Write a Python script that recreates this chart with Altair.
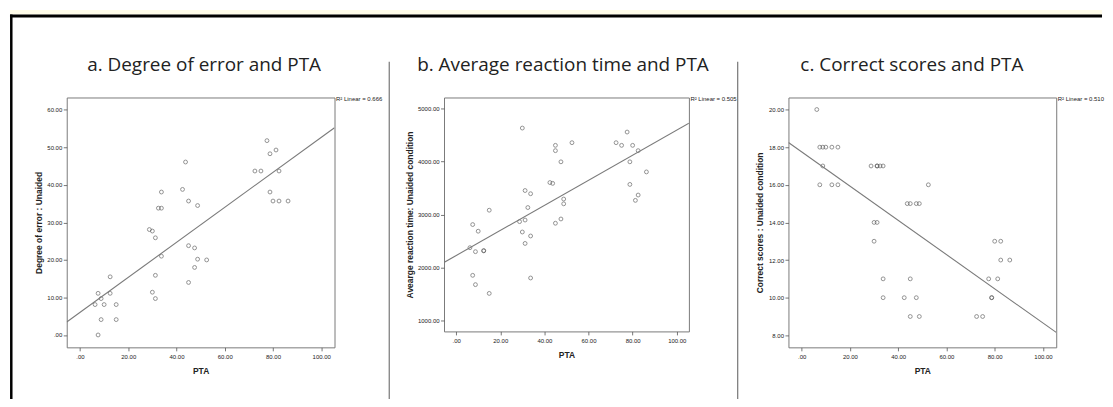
import altair as alt
import pandas as pd

# ---------------- data ----------------
pta_a = [77.5, 78.75, 81.25, 72.5, 75, 82.5, 78.75, 80, 82.5, 86.25,
         43.75, 42.5, 45, 48.75, 33.75, 32.5, 33.75, 28.75, 30, 31.25,
         33.75, 45, 47.5, 48.75, 52.5, 47.5, 45, 31.25, 30, 31.25,
         12.5, 12.5, 7.5, 8.75, 6.25, 10, 15, 8.75, 15, 7.5]
err_a = [51.8, 48.3, 49.3, 43.7, 43.7, 43.7, 38.1, 35.7, 35.7, 35.7,
         46.1, 38.8, 35.7, 34.5, 38.1, 33.8, 33.8, 28.1, 27.7, 25.9,
         21.0, 23.8, 23.2, 20.2, 20.0, 18.0, 14.0, 15.9, 11.4, 9.7,
         15.5, 11.1, 11.1, 9.7, 8.1, 8.1, 8.1, 4.1, 4.1, 0.0]

pta_b = [30, 45, 45, 52.5, 47.5, 42.5, 43.75, 31.25, 33.75, 32.5,
         48.75, 48.75, 15, 7.5, 10, 28.75, 31.25, 47.5, 45, 30,
         33.75, 31.25, 6.25, 8.75, 12.5, 12.5, 7.5, 8.75, 15, 33.75,
         72.5, 75, 77.5, 80, 82.5, 78.75, 86.25, 78.75, 82.5, 81.25]
rt_b = [4625, 4300, 4200, 4350, 3990, 3600, 3585, 3450, 3390, 3130,
        3290, 3200, 3080, 2810, 2685, 2865, 2895, 2915, 2835, 2670,
        2595, 2455, 2375, 2300, 2315, 2320, 1855, 1680, 1515, 1805,
        4350, 4300, 4550, 4300, 4200, 3990, 3800, 3565, 3365, 3265]

pta_c = [6.25, 7.5, 8.75, 10, 12.5, 15, 8.75, 7.5, 12.5, 15,
         28.75, 31.25, 31.25, 32.5, 33.75, 52.5, 43.75, 45, 47.5, 48.75,
         30, 31.25, 30, 33.75, 45, 33.75, 42.5, 47.5, 45, 48.75,
         80, 82.5, 82.5, 86.25, 77.5, 81.25, 78.75, 78.75, 72.5, 75]
cs_c = [20, 18, 18, 18, 18, 18, 17, 16, 16, 16,
        17, 17, 17, 17, 17, 16, 15, 15, 15, 15,
        14, 14, 13, 11, 11, 10, 10, 10, 9, 9,
        13, 13, 12, 12, 11, 11, 10, 10, 9, 9]

titles = ["a. Degree of error and PTA",
          "b. Average reaction time and PTA",
          "c. Correct scores and PTA"]
y_titles = ["Degree of error : Unaided",
            "Avearge reaction time: Unaided condition",
            "Correct scores : Unaided condition"]
r2_labels = ["R\u00b2 Linear = 0.666", "R\u00b2 Linear = 0.505", "R\u00b2 Linear = 0.510"]

x_ticks = [0, 20, 40, 60, 80, 100]
y_ticks_a = [0, 10, 20, 30, 40, 50, 60]
y_ticks_b = [1000, 2000, 3000, 4000, 5000]
y_ticks_c = [8, 10, 12, 14, 16, 18, 20]

X_DOMAIN = [-5.5, 105.5]
LABEL_EXPR = "datum.value == 0 ? '.00' : format(datum.value, '.2f')"

PT_COLOR = "#555555"
LINE_COLOR = "#7a7a7a"
SEP_COLOR = "#808080"


def panel(xs, ys, ytitle, ydomain, yticks, w, h, title, title_x, r2, ytitle_x,
          extra=None):
    df = pd.DataFrame({"pta": xs, "val": ys})
    x_enc = alt.X("pta:Q",
                  scale=alt.Scale(domain=X_DOMAIN, nice=False, zero=False),
                  axis=alt.Axis(values=x_ticks, labelExpr=LABEL_EXPR, title="PTA",
                                titleX=w / 2, titleY=23, titleBaseline="middle",
                                labelPadding=2.5))
    y_enc = alt.Y("val:Q",
                  scale=alt.Scale(domain=ydomain, nice=False, zero=False),
                  axis=alt.Axis(values=yticks, labelExpr=LABEL_EXPR, title=ytitle,
                                titleX=ytitle_x, titleY=h / 2, titleBaseline="middle",
                                titleAngle=270))
    pts = alt.Chart(df).mark_point(shape="circle", filled=False, size=15,
                                   strokeWidth=0.9, color=PT_COLOR).encode(x=x_enc, y=y_enc)
    line = (alt.Chart(df)
            .transform_regression("pta", "val", extent=X_DOMAIN)
            .mark_line(color=LINE_COLOR, strokeWidth=1.1, clip=True)
            .encode(x=x_enc, y=y_enc))
    tdf = pd.DataFrame({"t": [title], "r": [r2]})
    ttl = alt.Chart(tdf).mark_text(font="Open Sans", fontSize=19, color="#222222",
                                   align="center", baseline="alphabetic").encode(
        text="t:N", x=alt.value(title_x), y=alt.value(-27))
    r2t = alt.Chart(tdf).mark_text(font="Liberation Sans", fontSize=6, color="#222222",
                                   align="left", baseline="middle").encode(
        text="r:N", x=alt.value(w + 1.5), y=alt.value(1.5))
    layers = [pts, line, ttl, r2t]
    if extra:
        layers = extra + layers
    return alt.layer(*layers).properties(width=w, height=h)


deco_df = pd.DataFrame({"d": [0]})
yellow = alt.Chart(deco_df).mark_rect(color="#fffce9").encode(
    x=alt.value(-57), x2=alt.value(1040), y=alt.value(-88), y2=alt.value(-83.3))
top_border = alt.Chart(deco_df).mark_rule(color="#000000", strokeWidth=3).encode(
    x=alt.value(-57), x2=alt.value(1040), y=alt.value(-81.8))
left_border = alt.Chart(deco_df).mark_rule(color="#000000", strokeWidth=2.5).encode(
    x=alt.value(-55.7), y=alt.value(-83.3), y2=alt.value(303))

pa = panel(pta_a, err_a, y_titles[0], [-3.3, 63.3], y_ticks_a, 269, 251,
           titles[0], 138, r2_labels[0], -28.3, extra=[yellow, top_border, left_border])
pb = panel(pta_b, rt_b, y_titles[1], [800, 5200], y_ticks_b, 246, 235,
           titles[1], 119.5, r2_labels[1], -34.2)
pc = panel(pta_c, cs_c, y_titles[2], [7.36, 20.64], y_ticks_c, 269, 251,
           titles[2], 124, r2_labels[2], -28.8)


def spacer(w, sep_x):
    return (alt.Chart(deco_df).mark_rule(color=SEP_COLOR, strokeWidth=1.3)
            .encode(x=alt.value(sep_x), y=alt.value(-36), y2=alt.value(303))
            .properties(width=w, height=251,
                        view=alt.ViewBackground(stroke="transparent")))


sp1 = spacer(109.5, 55)
sp2 = spacer(100, 49)

chart = (alt.hconcat(pa, sp1, pb, sp2, pc, spacing=0, bounds="flush")
         .properties(padding=0, background="white")
         .configure_view(stroke="#7a7a7a", strokeWidth=1)
         .configure_axis(domain=False, grid=False, tickColor="#555555", tickWidth=0.8,
                         tickSize=3.5, labelFont="Liberation Sans", labelFontSize=6,
                         labelColor="#222222", labelPadding=1.5,
                         titleFont="Liberation Sans", titleFontSize=8.5,
                         titleFontWeight="bold", titleColor="#222222"))

chart.save("out.html", embed_options={"renderer": "svg", "actions": False})
